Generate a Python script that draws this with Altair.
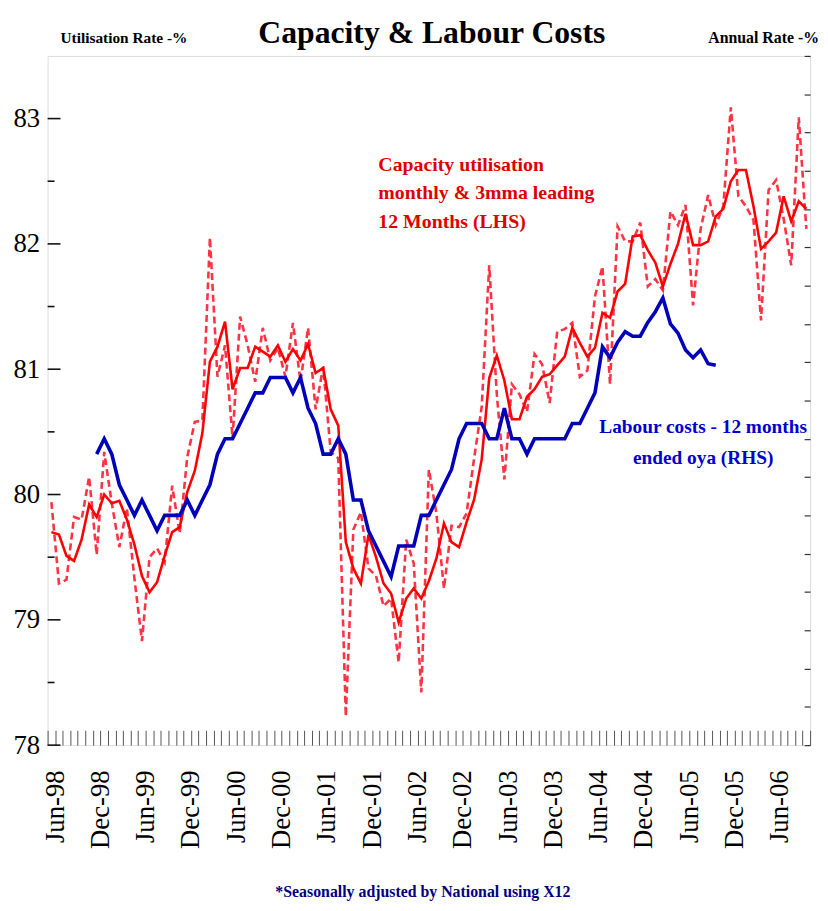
import altair as alt
import pandas as pd

# ---- categories -------------------------------------------------------
months = [p.strftime('%b-%y') for p in pd.period_range('1998-05', '2006-09', freq='M')]
x_labels = ["Jun-98", "Dec-98", "Jun-99", "Dec-99", "Jun-00", "Dec-00", "Jun-01",
            "Dec-01", "Jun-02", "Dec-02", "Jun-03", "Dec-03", "Jun-04", "Dec-04",
            "Jun-05", "Dec-05", "Jun-06"]

# ---- series values ----------------------------------------------------
# Capacity utilisation, monthly, leading 12 months (LHS)
cu_monthly = [79.94, 79.29, 79.32, 79.82, 79.80, 80.14, 79.52, 80.34, 79.93, 79.58,
              79.89, 79.33, 78.83, 79.50, 79.57, 79.46, 80.07, 79.69, 80.30, 80.58,
              80.59, 82.05, 80.94, 81.19, 80.45, 81.42, 81.19, 80.90, 81.33, 81.07,
              81.17, 80.94, 81.37, 80.90, 81.33, 80.68, 81.02, 80.34, 80.29, 78.23,
              79.72, 79.86, 79.41, 79.35, 79.11, 79.17, 78.66, 79.64, 79.45, 78.42,
              80.20, 79.85, 79.25, 79.75, 79.74, 79.85, 80.29, 80.70, 81.83, 80.80,
              80.12, 80.88, 80.80, 80.66, 81.12, 81.04, 80.73, 81.30, 81.32, 81.37,
              80.94, 80.99, 81.58, 81.82, 80.88, 82.14, 82.02, 82.02, 82.17, 81.66,
              81.72, 81.63, 82.26, 82.15, 82.31, 81.51, 82.12, 82.39, 82.15, 82.30,
              83.09, 82.38, 82.30, 82.19, 81.39, 82.43, 82.51, 82.20, 81.83, 83.01,
              82.12]
# Capacity utilisation, 3mma, leading 12 months (LHS)
cu_3mma = [79.70, 79.68, 79.51, 79.47, 79.64, 79.92, 79.82, 80.00, 79.93, 79.95,
           79.80, 79.60, 79.35, 79.22, 79.30, 79.51, 79.70, 79.74, 80.02, 80.19,
           80.49, 81.06, 81.18, 81.38, 80.84, 81.01, 81.01, 81.18, 81.14, 81.10,
           81.19, 81.06, 81.16, 81.07, 81.20, 80.97, 81.01, 80.68, 80.55, 79.62,
           79.41, 79.29, 79.68, 79.50, 79.29, 79.21, 78.98, 79.17, 79.25, 79.17,
           79.31, 79.49, 79.77, 79.62, 79.58, 79.78, 79.96, 80.28, 80.93, 81.11,
           80.91, 80.60, 80.60, 80.78, 80.84, 80.94, 80.96, 81.03, 81.10, 81.33,
           81.21, 81.10, 81.17, 81.45, 81.41, 81.62, 81.68, 82.06, 82.07, 81.95,
           81.85, 81.66, 81.84, 82.00, 82.24, 81.99, 81.99, 82.02, 82.22, 82.28,
           82.50, 82.59, 82.59, 82.30, 81.96, 82.02, 82.09, 82.38, 82.18, 82.34,
           82.28]
# Labour costs - 12 months ended oya (RHS), Nov-98 .. Sep-05
labour_start = 6
labour = [3.9, 4.0, 3.9, 3.7, 3.6, 3.5, 3.6, 3.5, 3.4, 3.5,
          3.5, 3.5, 3.6, 3.5, 3.6, 3.7, 3.9, 4.0, 4.0, 4.1,
          4.2, 4.3, 4.3, 4.4, 4.4, 4.4, 4.3, 4.4, 4.2, 4.1,
          3.9, 3.9, 4.0, 3.9, 3.6, 3.6, 3.4, 3.3, 3.2, 3.1,
          3.3, 3.3, 3.3, 3.5, 3.5, 3.6, 3.7, 3.8, 4.0, 4.1,
          4.1, 4.1, 4.0, 4.0, 4.2, 4.0, 4.0, 3.9, 4.0, 4.0,
          4.0, 4.0, 4.0, 4.1, 4.1, 4.2, 4.3, 4.6, 4.53, 4.63,
          4.7, 4.67, 4.67, 4.76, 4.83, 4.92, 4.75, 4.69, 4.58, 4.53,
          4.58, 4.49, 4.48]

left_labels = [78, 79, 80, 81, 82, 83]
left_minor = [78.5, 79.5, 80.5, 81.5, 82.5]
right_ticks = [2 + 0.25 * i for i in range(19)]

# ---- tables -----------------------------------------------------------
n = len(months)
df_red = pd.DataFrame({"k": list(range(n)), "month": months,
                       "monthly": cu_monthly, "mma": cu_3mma})
df_blue = pd.DataFrame({"k": list(range(labour_start, labour_start + len(labour))),
                        "labour": labour})
df_major = pd.DataFrame({"v": [float(v) for v in left_labels]})
df_minor = pd.DataFrame({"v": left_minor})

W, H = 770, 696
FONT = "Liberation Serif"

label_pos = [0.5 + 6 * j for j in range(len(x_labels))]
month_ticks = [-0.5 + i for i in range(n + 1)]
arr = "[" + ",".join("'%s'" % s for s in x_labels) + "]"
label_expr = arr + "[round((datum.value - 0.5) / 6)]"

xs = alt.Scale(domain=[-0.5, n - 0.5], nice=False, zero=False)
ys_left = alt.Scale(domain=[78, 83.5], nice=False, zero=False)
ys_right = alt.Scale(domain=[2, 6.5], nice=False, zero=False)

dashed = alt.Chart(df_red).mark_line(
    color="#ff3344", strokeWidth=2.6, strokeDash=[7, 4]
).encode(
    x=alt.X("k:Q", scale=xs, axis=None),
    y=alt.Y("monthly:Q", scale=ys_left, axis=None),
)

solid = alt.Chart(df_red).mark_line(color="#ff0000", strokeWidth=2.6).encode(
    x=alt.X("k:Q", scale=xs, axis=alt.Axis(
        orient="bottom", values=label_pos, labelExpr=label_expr, labelAngle=270,
        labelFont=FONT, labelFontSize=27, labelColor="black", labelPadding=25,
        ticks=False, tickSize=0, domain=False, grid=False, labelOverlap=False,
        labelFlush=False, title=None)),
    y=alt.Y("mma:Q", scale=ys_left, axis=alt.Axis(
        orient="left", values=left_labels, format="d", labelFont=FONT,
        labelFontSize=27, labelColor="black", labelPadding=8, ticks=False,
        tickSize=0, domain=False, grid=False, title=None)),
)


def inner_ticks(df, size):
    # short rules from the left frame edge into the plot, at the LHS tick values
    return alt.Chart(df).mark_rule(color="#111111", strokeWidth=1.6).encode(
        x=alt.value(0), x2=alt.value(size),
        y=alt.Y("v:Q", scale=ys_left, axis=None),
    )


major_ticks = inner_ticks(df_major, 13)
minor_ticks = inner_ticks(df_minor, 7)

blue = alt.Chart(df_blue).mark_line(color="#0000bb", strokeWidth=3.6).encode(
    x=alt.X("k:Q", scale=xs, axis=alt.Axis(
        orient="top", offset=-H, values=month_ticks, labels=False, tickSize=15,
        tickColor="#555555", tickWidth=1, domain=False, grid=False, title=None)),
    y=alt.Y("labour:Q", scale=ys_right, axis=alt.Axis(
        orient="left", offset=-W, values=right_ticks, labels=False, tickSize=6,
        tickColor="#333333", tickWidth=1.2, domain=False, grid=False, title=None)),
)

one = pd.DataFrame({"a": [0]})


def txt(text, x, y, size, color, align="left", lh=None, weight="bold"):
    kw = dict(text=text, align=align, baseline="alphabetic", font=FONT,
              fontSize=size, fontWeight=weight, color=color)
    if lh is not None:
        kw["lineHeight"] = lh
    return alt.Chart(one).mark_text(**kw).encode(x=alt.value(x), y=alt.value(y))


title = txt("Capacity & Labour Costs", 388, -13, 32, "black", align="center")
lhs = txt("Utilisation Rate -%", 13, -13, 15.5, "black")
rhs = txt("Annual Rate -%", 779, -13, 16, "black", align="right")
red_note = txt(["Capacity utilisation", "monthly & 3mma leading", "12 Months (LHS)"],
               334, 116, 20, "#dd0000", lh=28.7)
blue_note = txt(["Labour costs - 12 months", "ended oya (RHS)"],
                662, 381, 19.5, "#0000cc", align="center", lh=31)
footer = txt("*Seasonally adjusted by National using X12", 379, 849, 16, "#000080",
             align="center")

chart = alt.layer(
    dashed, solid, major_ticks, minor_ticks, blue,
    title, lhs, rhs, red_note, blue_note, footer
).resolve_scale(y="independent").resolve_axis(x="independent").properties(
    width=W, height=H,
    padding={"left": 40, "top": 44, "right": 10, "bottom": 153},
    autosize=alt.AutoSizeParams(type="none"),
).configure_view(stroke="#444444", strokeWidth=1.5).configure(background="white")

chart.save("out.html", embed_options={"renderer": "svg", "actions": False})
